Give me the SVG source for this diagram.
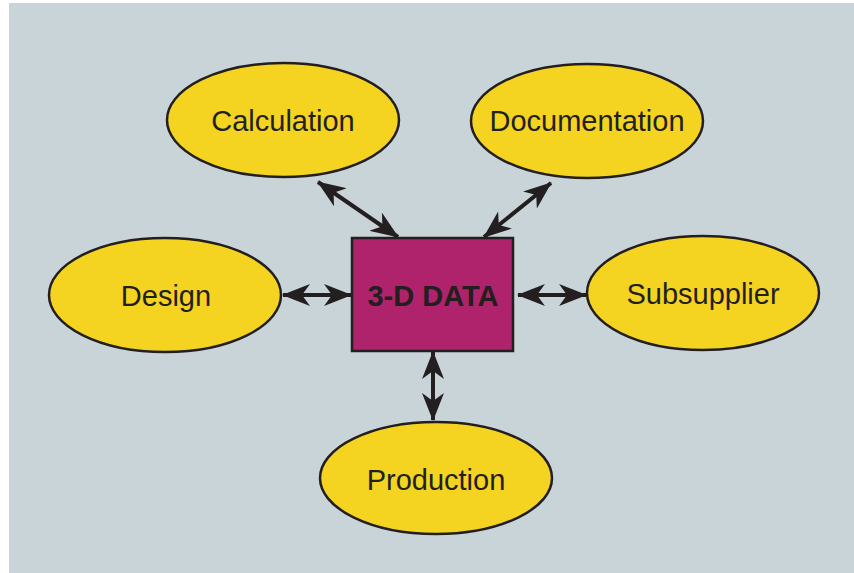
<svg xmlns="http://www.w3.org/2000/svg" width="854" height="573" viewBox="0 0 854 573">
<style>
.node ellipse{fill:#f4d321;stroke:#231f20;stroke-width:2.5}
.lbl{font-family:"Liberation Sans",Arial,sans-serif;font-size:29px;fill:#231f20;text-anchor:middle;dominant-baseline:central}
.conn line{stroke:#231f20;stroke-width:4}
</style>
<defs>
<marker id="ah" viewBox="0 0 28 22" refX="27" refY="11" markerWidth="28" markerHeight="22" markerUnits="userSpaceOnUse" orient="auto-start-reverse">
<path d="M0,0 L28,11 L0,22 L8,11 Z" fill="#231f20"/>
</marker>
</defs>
<rect x="9" y="3" width="845" height="570" fill="#c9d4d9"/>
<g class="conn">
<line x1="318" y1="182" x2="398" y2="237" marker-start="url(#ah)" marker-end="url(#ah)"/>
<line x1="551" y1="183" x2="484" y2="237" marker-start="url(#ah)" marker-end="url(#ah)"/>
<line x1="283" y1="295" x2="351" y2="295" marker-start="url(#ah)" marker-end="url(#ah)"/>
<line x1="518" y1="295" x2="586" y2="295" marker-start="url(#ah)" marker-end="url(#ah)"/>
<line x1="433" y1="352" x2="433" y2="420" marker-start="url(#ah)" marker-end="url(#ah)"/>
</g>
<g id="calculation" class="node"><ellipse cx="283" cy="120" rx="116" ry="57"/><text class="lbl" x="283" y="121">Calculation</text></g>
<g id="documentation" class="node"><ellipse cx="587" cy="121" rx="116" ry="57"/><text class="lbl" x="587" y="121">Documentation</text></g>
<g id="design" class="node"><ellipse cx="165" cy="295" rx="116" ry="57"/><text class="lbl" x="166" y="296">Design</text></g>
<g id="subsupplier" class="node"><ellipse cx="703" cy="293" rx="116" ry="57"/><text class="lbl" x="703" y="294">Subsupplier</text></g>
<g id="production" class="node"><ellipse cx="436" cy="478" rx="116" ry="56"/><text class="lbl" x="436" y="480">Production</text></g>
<g id="data" class="node"><rect x="352" y="238" width="161" height="113" fill="#ae236b" stroke="#231f20" stroke-width="2.5"/><text class="lbl" x="433" y="296" font-size="30" font-weight="bold">3-D DATA</text></g>
</svg>
